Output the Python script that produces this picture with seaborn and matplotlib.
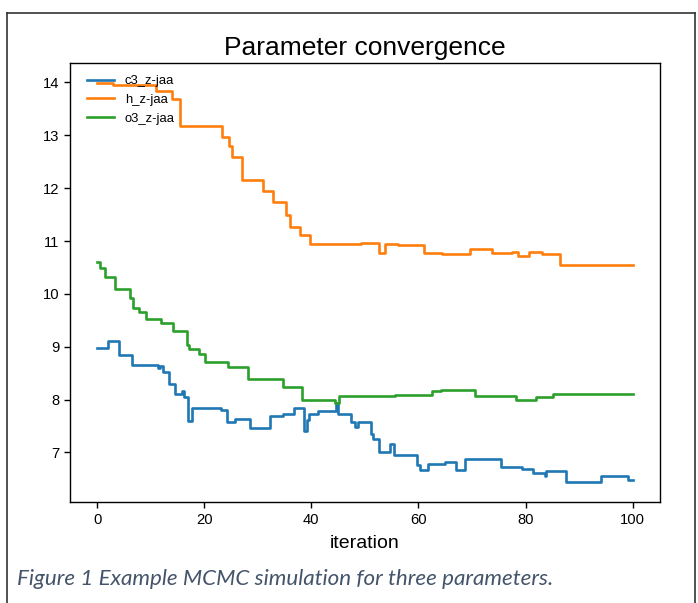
import matplotlib
matplotlib.use("Agg")
import matplotlib.pyplot as plt
import seaborn as sns
import pandas as pd
from matplotlib.lines import Line2D

# ---- data (step change points) ----
c3_x = [0, 2.0, 4.1, 6.6, 11.3, 11.8, 12.3, 13.5, 14.6, 15.9, 16.3, 16.9, 17.8, 23.2, 24.3,
        25.8, 28.6, 32.2, 34.7, 36.8, 38.7, 39.1, 39.6, 41.3, 44.6, 45.0, 47.4, 48.2, 48.8,
        51.1, 51.5, 52.7, 54.6, 55.4, 59.7, 60.2, 61.8, 65.0, 67.0, 68.7, 75.5, 79.3, 81.4,
        83.6, 83.8, 87.5, 94.1, 99.1, 100]
c3_v = [8.97, 9.10, 8.84, 8.66, 8.60, 8.64, 8.53, 8.29, 8.11, 8.16, 8.05, 7.60, 7.84, 7.81, 7.57,
        7.63, 7.46, 7.68, 7.72, 7.85, 7.41, 7.62, 7.73, 7.78, 7.93, 7.72, 7.58, 7.48, 7.57,
        7.35, 7.26, 7.01, 7.16, 6.96, 6.76, 6.67, 6.79, 6.82, 6.67, 6.87, 6.73, 6.68, 6.62,
        6.55, 6.65, 6.44, 6.56, 6.48, 6.48]

h_x = [0, 3, 11, 14, 15.5, 23.3, 24.7, 25.1, 27, 30.9, 32.9, 35.3, 36, 37.9, 39.8, 49.3, 52.7,
       53.8, 56.2, 61.1, 64.4, 69.7, 73.7, 77.5, 78.6, 80.7, 83.1, 86.4, 100]
h_v = [13.99, 13.96, 13.83, 13.68, 13.18, 12.96, 12.79, 12.58, 12.16, 11.95, 11.73, 11.49, 11.27,
       11.11, 10.94, 10.97, 10.78, 10.95, 10.93, 10.78, 10.75, 10.84, 10.77, 10.79, 10.72, 10.80,
       10.76, 10.55, 10.55]

o3_x = [0, 0.6, 1.4, 3.4, 6.1, 6.7, 7.8, 9.2, 11.9, 14.1, 16.8, 17.1, 19.1, 20.1, 24.4, 28.1,
        34.7, 38.2, 44.4, 45.1, 55.7, 62.5, 64.3, 70.6, 78.2, 81.9, 85.2, 100]
o3_v = [10.61, 10.48, 10.31, 10.09, 9.93, 9.74, 9.66, 9.52, 9.45, 9.29, 9.04, 8.95, 8.87, 8.72,
        8.61, 8.38, 8.24, 7.99, 7.93, 8.07, 8.09, 8.17, 8.19, 8.06, 8.00, 8.05, 8.11, 8.11]

labels = ["c3_z-jaa", "h_z-jaa", "o3_z-jaa"]
title = "Parameter convergence"
xlabel = "iteration"
caption = "Figure 1 Example MCMC simulation for three parameters."

frames = []
for lab, xs, vs in zip(labels, [c3_x, h_x, o3_x], [c3_v, h_v, o3_v]):
    frames.append(pd.DataFrame({"iteration": xs, "value": vs, "param": lab}))
df = pd.concat(frames, ignore_index=True)

plt.rcParams["font.family"] = ["Liberation Sans", "DejaVu Sans"]

W, H = 698, 603
fig = plt.figure(figsize=(W / 100, H / 100), dpi=100)
ax_w, ax_h = 659.5 - 70.3, 502 - 63
ax = fig.add_axes([70.3 / W, 1 - 502 / H, ax_w / W, ax_h / H])

palette = sns.color_palette("tab10", 3)
sns.lineplot(data=df, x="iteration", y="value", hue="param", hue_order=labels,
             palette=palette, estimator=None, sort=False, drawstyle="steps-post",
             linewidth=1.9, legend=False, ax=ax)

ax.set_title(title, fontsize=19, pad=6)
ax.set_xlabel(xlabel, fontsize=14, labelpad=6)
ax.set_ylabel("")
ax.tick_params(labelsize=10.6, length=4.2, width=1)
for s in ax.spines.values():
    s.set_linewidth(1.0)

handles = [Line2D([], [], color=c, linewidth=1.9) for c in palette]
ax.legend(handles, labels, loc="upper left", frameon=False, fontsize=9.4,
          labelspacing=0.5, handlelength=2.1, borderaxespad=0.5, borderpad=0.4,
          bbox_to_anchor=(5 / ax_w, 1 - 0.5 / ax_h))

# caption below the chart
cap = fig.text(17 / W, 1 - 579 / H, caption, fontsize=15, style="italic",
               color="#44546A", family=["Lato", "DejaVu Sans"], va="center", ha="left")
fig.canvas.draw()
bb = cap.get_window_extent()
cap.set_fontsize(15 * 537 / bb.width)

# outer document frame
fig.add_artist(Line2D([7 / W, 7 / W], [0, 1 - 13 / H], transform=fig.transFigure,
                      color="#333333", linewidth=1.2))
fig.add_artist(Line2D([7 / W, 695 / W], [1 - 13 / H, 1 - 13 / H], transform=fig.transFigure,
                      color="#333333", linewidth=1.2))
fig.add_artist(Line2D([695 / W, 695 / W], [0, 1 - 13 / H], transform=fig.transFigure,
                      color="#333333", linewidth=1.2))

fig.savefig("out.png", dpi=100)
